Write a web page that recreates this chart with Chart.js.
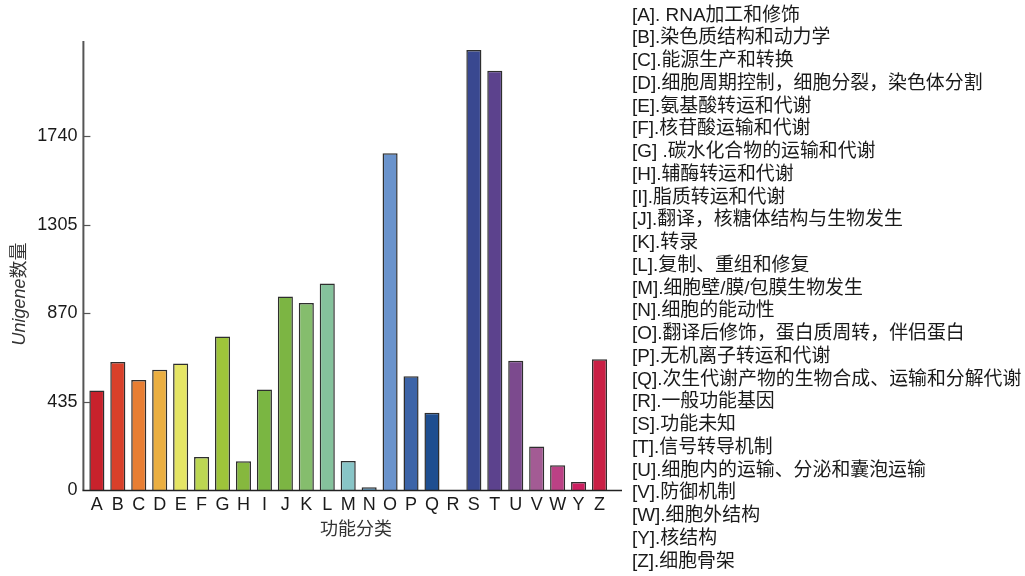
<!DOCTYPE html>
<html>
<head>
<meta charset="utf-8">
<script src="https://cdn.jsdelivr.net/npm/chart.js@4/dist/chart.umd.min.js"></script>
<style>
  body { margin: 0; background: #fff; }
  #wrap { position: relative; width: 1025px; height: 576px; }
  #chart { position: absolute; left: 0; top: 0; }
  #notes {
    position: absolute; left: 632px; top: 3.6px;
    font-family: "Liberation Sans", "Noto Sans CJK SC", sans-serif;
    font-size: 18.9px; line-height: 22.75px; color: #1a1a1a; white-space: nowrap;
  }
</style>
</head>
<body>
<div id="wrap">
  <canvas id="chart" width="1025" height="576"></canvas>
  <div id="notes"></div>
</div>
<script>
const categories = ["A", "B", "C", "D", "E", "F", "G", "H", "I", "J", "K", "L", "M",
  "N", "O", "P", "Q", "R", "S", "T", "U", "V", "W", "Y", "Z"];
const counts = [490, 630, 542, 592, 623, 163, 756, 141, 495, 953, 920, 1016, 143,
  13, 1657, 560, 380, 0, 2166, 2064, 636, 214, 122, 39, 643];
const barColors = ["#c8222c", "#d8402a", "#e87e33", "#ebaf41", "#e5e565", "#bcd752",
  "#9ec43a", "#86b83e", "#7ab642", "#7cb543", "#85bd6d", "#85c29c", "#88c5c7",
  "#6ba5ca", "#6a93cc", "#3c64a8", "#1e4e90", "#888888", "#394890", "#5c428d",
  "#7c4a8e", "#a35b94", "#bb4185", "#cc1f60", "#c92045"];
const yTicks = [0, 435, 870, 1305, 1740];
const notes = [
  "[A]. RNA加工和修饰",
  "[B].染色质结构和动力学",
  "[C].能源生产和转换",
  "[D].细胞周期控制，细胞分裂，染色体分割",
  "[E].氨基酸转运和代谢",
  "[F].核苷酸运输和代谢",
  "[G] .碳水化合物的运输和代谢",
  "[H].辅酶转运和代谢",
  "[I].脂质转运和代谢",
  "[J].翻译，核糖体结构与生物发生",
  "[K].转录",
  "[L].复制、重组和修复",
  "[M].细胞壁/膜/包膜生物发生",
  "[N].细胞的能动性",
  "[O].翻译后修饰，蛋白质周转，伴侣蛋白",
  "[P].无机离子转运和代谢",
  "[Q].次生代谢产物的生物合成、运输和分解代谢",
  "[R].一般功能基因",
  "[S].功能未知",
  "[T].信号转导机制",
  "[U].细胞内的运输、分泌和囊泡运输",
  "[V].防御机制",
  "[W].细胞外结构",
  "[Y].核结构",
  "[Z].细胞骨架"
];

document.getElementById("notes").innerHTML = notes.map((t) => `<div>${t}</div>`).join("");

const fontFamily = "'Liberation Sans', 'Noto Sans CJK SC', sans-serif";

// axes, inward ticks and titles drawn by hand
const axesPlugin = {
  id: "axesPlugin",
  afterDraw(chart) {
    const ctx = chart.ctx;
    const area = chart.chartArea;
    const y = chart.scales.y;
    const axisX = area.left - 3;
    ctx.save();
    ctx.strokeStyle = "#555";
    ctx.lineWidth = 2;
    ctx.beginPath();
    ctx.moveTo(axisX, area.top);
    ctx.lineTo(axisX, area.bottom);
    ctx.stroke();
    ctx.lineWidth = 1.2;
    yTicks.slice(1).forEach((v) => {
      const py = Math.round(y.getPixelForValue(v)) + 0.5;
      ctx.beginPath();
      ctx.moveTo(axisX, py);
      ctx.lineTo(axisX + 7, py);
      ctx.stroke();
    });
    ctx.strokeStyle = "#222";
    ctx.lineWidth = 1.5;
    ctx.beginPath();
    ctx.moveTo(axisX - 1, area.bottom + 0.5);
    ctx.lineTo(622, area.bottom + 0.5);
    ctx.stroke();

    ctx.fillStyle = "#333";
    ctx.textAlign = "center";
    ctx.textBaseline = "middle";
    ctx.font = "18px " + fontFamily;
    ctx.fillText("功能分类", 356, 530);

    ctx.translate(20, 294);
    ctx.rotate(-Math.PI / 2);
    ctx.font = "italic 18px " + fontFamily;
    const w1 = ctx.measureText("Unigene").width;
    ctx.font = "18px " + fontFamily;
    const w2 = ctx.measureText("数量").width;
    let start = -(w1 + w2) / 2;
    ctx.textAlign = "left";
    ctx.font = "italic 18px " + fontFamily;
    ctx.fillText("Unigene", start, 0);
    ctx.font = "18px " + fontFamily;
    ctx.fillText("数量", start + w1, 0);
    ctx.restore();
  },
};

new Chart(document.getElementById("chart"), {
  type: "bar",
  data: {
    labels: categories,
    datasets: [
      {
        data: counts,
        backgroundColor: barColors,
        borderColor: "#2e2e2e",
        borderWidth: 1.5,
        barPercentage: 0.72,
        categoryPercentage: 1,
      },
    ],
  },
  options: {
    responsive: false,
    animation: false,
    layout: { padding: { top: 41, right: 415, bottom: 46, left: 0 } },
    plugins: { legend: { display: false }, tooltip: { enabled: false } },
    scales: {
      x: {
        grid: { display: false, drawTicks: false },
        border: { display: false },
        ticks: {
          color: "#1a1a1a",
          padding: 4,
          autoSkip: false,
          maxRotation: 0,
          minRotation: 0,
          font: { size: 18, family: fontFamily },
        },
        afterFit(scale) { scale.height = 40; },
      },
      y: {
        min: 0,
        max: 2210,
        grid: { display: false, drawTicks: false },
        border: { display: false },
        afterBuildTicks(scale) { scale.ticks = yTicks.map((v) => ({ value: v })); },
        ticks: {
          color: "#1a1a1a",
          padding: 9,
          font: { size: 18, family: fontFamily },
          callback: (value) => String(value),
        },
        afterFit(scale) { scale.width = 86.4; },
      },
    },
  },
  plugins: [axesPlugin],
});
</script>
</body>
</html>
